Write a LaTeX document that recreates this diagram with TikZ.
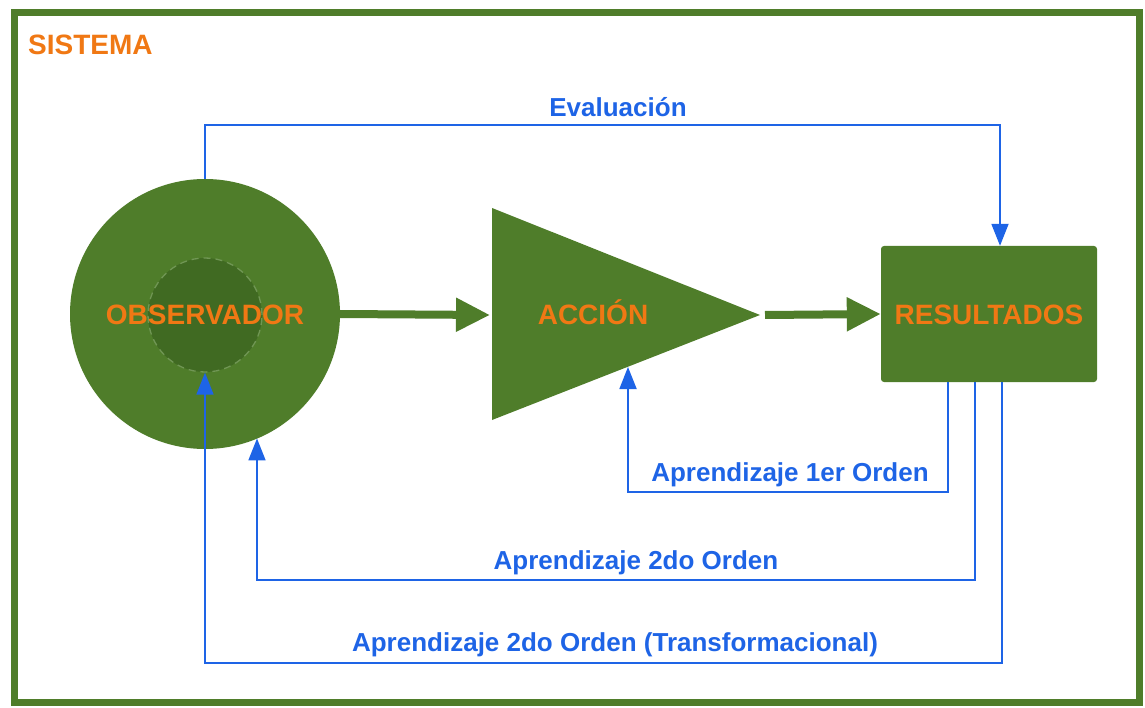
\documentclass[tikz,border=0pt]{standalone}
\usepackage{fontspec}
\setmainfont{Liberation Sans}
\usetikzlibrary{arrows.meta}
\definecolor{gr}{RGB}{79,125,42}
\definecolor{grd}{RGB}{64,106,34}
\definecolor{grl}{RGB}{112,150,84}
\definecolor{bl}{RGB}{30,100,230}
\definecolor{org}{RGB}{240,120,20}
\tikzset{
  ofont/.style={text=org, font=\bfseries\fontsize{28}{32}\selectfont, text height=20pt, text depth=0pt},
  otext/.style={ofont, inner sep=0pt},
  btext/.style={text=bl, font=\bfseries\fontsize{26}{30}\selectfont, inner sep=0pt, text height=18.6pt, text depth=0pt},
  garrow/.style={draw=gr, line width=8pt, -{Triangle[length=34pt,width=32pt]}},
  barrow/.style={draw=bl, line width=1.8pt, -{Triangle[length=22pt,width=17pt]}},
}
\begin{document}
\begin{tikzpicture}[x=1pt,y=-1pt]
\useasboundingbox (0,0) rectangle (1145,708);
\draw[gr, line width=7pt] (14,13) rectangle (1139,702);
\node[otext, anchor=west] (sis) at (28,45) {SISTEMA};

% observer
\node[circle, fill=gr, minimum size=270pt, inner sep=0pt] (obs) at (205,314) {};
\node[circle, fill=grd, draw=grl, dashed, dash pattern=on 7pt off 5pt, line width=1.3pt, minimum size=114pt, inner sep=0pt] (obsin) at (205,315) {};
\node[otext] (obst) at (205,315) {OBSERVADOR};

% action triangle
\fill[gr] (492,208) -- (760,315) -- (492,420) -- cycle;
\coordinate (accL) at (492,315);
\coordinate (accR) at (760,315);
\coordinate (accB) at (628,367);
\node[otext] (acc) at (593,315) {ACCIÓN};

% results
\node[rectangle, rounded corners=3pt, fill=gr, minimum width=216pt, minimum height=136pt, inner sep=0pt, ofont] (res) at (989,314) {RESULTADOS};

% green arrows
\draw[garrow] (obs.east) -- ([xshift=-2pt]accL);
\draw[garrow] ([xshift=5pt]accR) -- (res.west);

% blue loops
\coordinate (evR) at (1000,125);
\draw[barrow] (obs.north) |- (evR) -- ([xshift=11pt]res.north);
\node[btext] (lev) at (618,107) {Evaluación};

\coordinate (l1) at (628,492);
\draw[barrow] ([xshift=-41pt]res.south) |- (l1) -- (accB);
\node[btext] (ll1) at (790,472) {Aprendizaje 1er Orden};

\coordinate (l2) at (257,580);
\draw[barrow] ([xshift=-14pt]res.south) |- (l2) -- (l2 |- obs.-67.3);
\node[btext] (ll2) at (636,560) {Aprendizaje 2do Orden};

\coordinate (l3) at (205,663);
\draw[barrow] ([xshift=13pt]res.south) |- (l3) -- (obsin.south);
\node[btext] (ll3) at (615,642) {Aprendizaje 2do Orden (Transformacional)};
\end{tikzpicture}
\end{document}
